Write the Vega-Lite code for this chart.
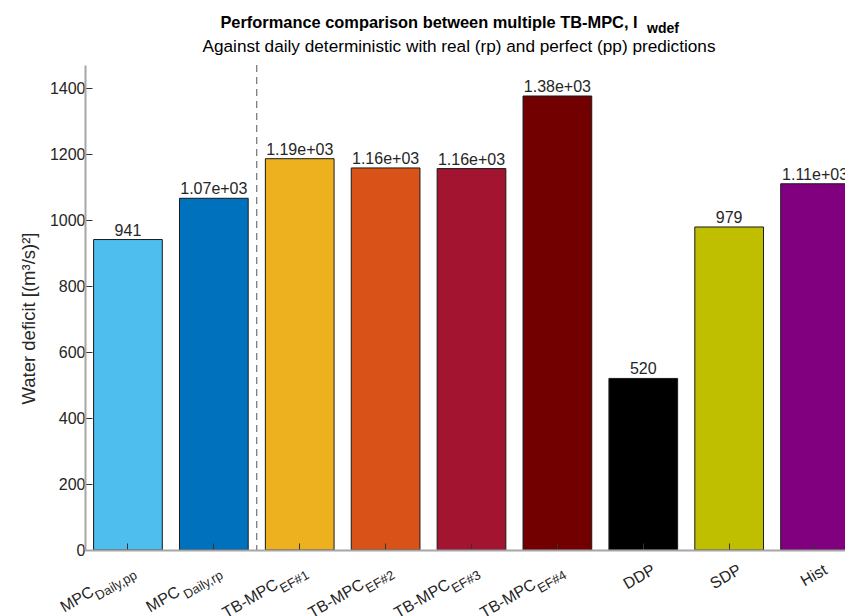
{
  "$schema": "https://vega.github.io/schema/vega-lite/v6.json",
  "width": 760,
  "height": 485,
  "autosize": {"type": "none"},
  "padding": {"left": 85, "top": 65, "right": 0, "bottom": 66},
  "background": "white",
  "title": {
    "text": "Performance comparison between multiple TB-MPC, I\u2800\u2800\u2800\u2800\u2800",
    "subtitle": "Against daily deterministic with real (rp) and perfect (pp) predictions",
    "anchor": "middle",
    "dx": -6,
    "font": "Liberation Sans",
    "fontSize": 16.4,
    "fontWeight": "bold",
    "color": "#000000",
    "subtitleFont": "Liberation Sans",
    "subtitleFontSize": 17.2,
    "subtitleColor": "#000000",
    "subtitlePadding": 6,
    "offset": -33
  },
  "config": {
    "view": {"stroke": null},
    "font": "Liberation Sans"
  },
  "data": {
    "values": [
      {"method": "MPC Daily,pp", "main": "MPC", "sub": "Daily,pp", "value": 941},
      {"method": "MPC Daily,rp", "main": "MPC", "sub": "Daily,rp", "value": 1066},
      {"method": "TB-MPC EF#1", "main": "TB-MPC", "sub": "EF#1", "value": 1186},
      {"method": "TB-MPC EF#2", "main": "TB-MPC", "sub": "EF#2", "value": 1158},
      {"method": "TB-MPC EF#3", "main": "TB-MPC", "sub": "EF#3", "value": 1156},
      {"method": "TB-MPC EF#4", "main": "TB-MPC", "sub": "EF#4", "value": 1376},
      {"method": "DDP", "main": "DDP", "sub": "", "value": 520},
      {"method": "SDP", "main": "SDP", "sub": "", "value": 979},
      {"method": "Hist", "main": "Hist", "sub": "", "value": 1110}
    ]
  },
  "encoding": {
    "x": {
      "field": "method",
      "type": "nominal",
      "scale": {
        "domain": ["MPC Daily,pp", "MPC Daily,rp", "TB-MPC EF#1", "TB-MPC EF#2", "TB-MPC EF#3", "TB-MPC EF#4", "DDP", "SDP", "Hist"],
        "range": [0, 773],
        "paddingInner": 0.2,
        "paddingOuter": 0.1
      },
      "axis": {
        "title": null,
        "labels": false,
        "domainColor": "#a6a6a6",
        "domainWidth": 2,
        "tickSize": -7,
        "tickColor": "#333333",
        "tickWidth": 1,
        "zindex": 1
      }
    }
  },
  "layer": [
    {
      "mark": {"type": "bar", "clip": true, "stroke": "#1a1a1a", "strokeWidth": 1},
      "encoding": {
        "y": {
          "field": "value",
          "type": "quantitative",
          "scale": {"domain": [0, 1470], "nice": false},
          "axis": {
            "values": [0, 200, 400, 600, 800, 1000, 1200, 1400],
            "format": "d",
            "grid": false,
            "title": "Water deficit [(m³/s)²]",
            "titleFont": "Liberation Sans",
            "titleFontSize": 18.5,
            "titleFontWeight": "normal",
            "titleColor": "#262626",
            "titleAngle": -90,
            "titleAlign": "center",
            "titleBaseline": "alphabetic",
            "titleX": -51,
            "titleY": 253,
            "labelFont": "Liberation Sans",
            "labelFontSize": 16,
            "labelColor": "#262626",
            "labelPadding": 7,
            "domainColor": "#a6a6a6",
            "domainWidth": 2,
            "tickSize": -7,
            "tickColor": "#333333",
            "tickWidth": 1
          }
        },
        "color": {
          "field": "method",
          "type": "nominal",
          "legend": null,
          "scale": {
            "domain": ["MPC Daily,pp", "MPC Daily,rp", "TB-MPC EF#1", "TB-MPC EF#2", "TB-MPC EF#3", "TB-MPC EF#4", "DDP", "SDP", "Hist"],
            "range": ["#4DBEEE", "#0072BD", "#EDB120", "#D95319", "#A2142F", "#720000", "#000000", "#BFBF00", "#800080"]
          }
        }
      }
    },
    {
      "data": {"values": [{"method": "MPC Daily,rp"}]},
      "mark": {"type": "rule", "strokeDash": [7, 5], "color": "#555555", "strokeWidth": 1},
      "encoding": {
        "x": {"field": "method", "type": "nominal", "bandPosition": 1.125}
      }
    },
    {
      "transform": [
        {"calculate": "datum.value < 1000 ? format(datum.value, 'd') : replace(format(datum.value, '.2e'), 'e+', 'e+0')", "as": "label"}
      ],
      "mark": {"type": "text", "baseline": "alphabetic", "align": "center", "dy": -4, "fontSize": 16, "color": "#262626"},
      "encoding": {
        "y": {"field": "value", "type": "quantitative"},
        "text": {"field": "label"}
      }
    },
    {
      "transform": [{"filter": "indexof(datum.sub, 'Daily') >= 0"}],
      "mark": {"type": "text", "angle": -30, "align": "right", "baseline": "alphabetic", "dx": -51, "dy": 22.5, "fontSize": 16, "color": "#262626"},
      "encoding": {
        "y": {"datum": 0, "type": "quantitative"},
        "text": {"field": "main"}
      }
    },
    {
      "transform": [{"filter": "indexof(datum.sub, 'EF') >= 0"}],
      "mark": {"type": "text", "angle": -30, "align": "right", "baseline": "alphabetic", "dx": -36.5, "dy": 22.5, "fontSize": 16, "color": "#262626"},
      "encoding": {
        "y": {"datum": 0, "type": "quantitative"},
        "text": {"field": "main"}
      }
    },
    {
      "transform": [{"filter": "datum.sub == ''"}],
      "mark": {"type": "text", "angle": -30, "align": "right", "baseline": "alphabetic", "dx": 0, "dy": 26.5, "fontSize": 16, "color": "#262626"},
      "encoding": {
        "y": {"datum": 0, "type": "quantitative"},
        "text": {"field": "main"}
      }
    },
    {
      "transform": [{"filter": "datum.sub != ''"}],
      "mark": {"type": "text", "angle": -30, "align": "right", "baseline": "alphabetic", "dx": -5, "dy": 29, "fontSize": 13, "color": "#262626"},
      "encoding": {
        "y": {"datum": 0, "type": "quantitative"},
        "text": {"field": "sub"}
      }
    },
    {
      "data": {"values": [{"sub": "wdef"}]},
      "mark": {"type": "text", "align": "left", "baseline": "alphabetic", "fontSize": 14, "fontWeight": "bold", "color": "#000000"},
      "encoding": {
        "x": {"datum": "TB-MPC EF#4", "bandPosition": 1.805},
        "y": {"datum": 1567, "type": "quantitative"},
        "text": {"field": "sub"}
      }
    }
  ]
}
